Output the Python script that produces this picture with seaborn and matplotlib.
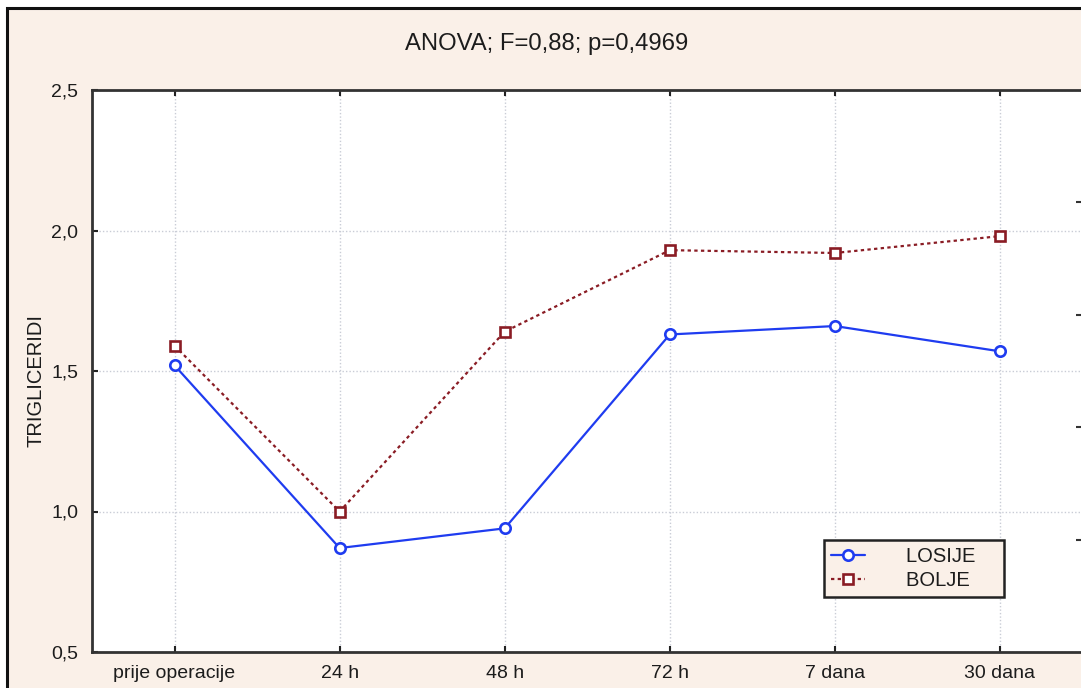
import matplotlib
matplotlib.use("Agg")
import matplotlib.pyplot as plt
from matplotlib.patches import Rectangle
from matplotlib.ticker import FuncFormatter
from matplotlib.lines import Line2D
import seaborn as sns
import pandas as pd

# Time points and mean triglyceride levels per outcome group
timepoints = ["prije operacije", "24 h", "48 h", "72 h", "7 dana", "30 dana"]
losije = [1.52, 0.87, 0.94, 1.63, 1.66, 1.57]
bolje = [1.59, 1.00, 1.64, 1.93, 1.92, 1.98]
groups = ["LOSIJE", "BOLJE"]
title_text = "ANOVA; F=0,88; p=0,4969"
y_label = "TRIGLICERIDI"
y_ticks = [0.5, 1.0, 1.5, 2.0, 2.5]

df = pd.DataFrame({
    "vrijeme": timepoints * 2,
    "TRIGLICERIDI": losije + bolje,
    "grupa": [groups[0]] * len(timepoints) + [groups[1]] * len(timepoints),
})

sns.set_theme(style="white")
plt.rcParams["font.family"] = ["Liberation Sans", "DejaVu Sans"]

BEIGE = "#faf0e8"
BLUE = "#1f3cf0"
RED = "#8a1c24"
TEXT = "#1c1c1c"
GRID = "#c9ccd6"

fig = plt.figure(figsize=(10.81, 6.88), dpi=100, facecolor="white")

# outer panel frame
W, H = 1081, 688
fig.patches.append(Rectangle((7 / W, -0.05), 1.1, 1 - 8 / H + 0.05,
                             transform=fig.transFigure, facecolor=BEIGE,
                             edgecolor="#111111", linewidth=2.2, zorder=-5))

ax = fig.add_axes([92 / W, 36 / H, (1082.5 - 92) / W, (652 - 90) / H])
ax.set_facecolor("white")

sns.lineplot(data=df, x="vrijeme", y="TRIGLICERIDI", hue="grupa", style="grupa",
             palette={groups[0]: BLUE, groups[1]: RED},
             markers={groups[0]: "o", groups[1]: "s"},
             dashes={groups[0]: "", groups[1]: (1.5, 1.5)},
             linewidth=1.6, markersize=7.5, markerfacecolor="white",
             markeredgewidth=1.9, ax=ax, legend=False, zorder=3)

for ln in ax.lines:
    ln.set_markeredgecolor(ln.get_color())

ax.set_xlim(-0.5, 5.5)
ax.set_ylim(0.5, 2.5)
ax.set_yticks(y_ticks)
ax.yaxis.set_major_formatter(FuncFormatter(lambda v, p: f"{v:.1f}".replace(".", ",")))
ax.set_xlabel("")
ax.set_ylabel(y_label, fontsize=14.5, color=TEXT)
ax.yaxis.set_label_coords(-(92 - 36) / (1082.5 - 92), 0.483)
ax.yaxis.label.set_va("center")

ax.grid(True, linestyle=(0, (1, 1.5)), color=GRID, linewidth=1.0, zorder=0)
ax.set_axisbelow(True)

for side, sp in ax.spines.items():
    sp.set_color("#333333")
    sp.set_linewidth(2.0)

ax.tick_params(axis="x", which="major", direction="in", length=4, width=1.5,
               top=True, bottom=True, labelsize=14, labelcolor=TEXT, pad=9,
               color="#222222")
ax.tick_params(axis="y", which="major", direction="in", length=4, width=1.5,
               left=True, right=False, labelsize=14, labelcolor=TEXT, pad=10,
               color="#222222")

# tick marks of the secondary scale on the right edge
ax2 = ax.twinx()
ax2.set_ylim(0.5, 2.5)
ax2.set_yticks([0.9, 1.3, 1.7, 2.1])
ax2.set_yticklabels([])
ax2.tick_params(axis="y", direction="in", length=4, width=1.5, color="#333333")
for sp in ax2.spines.values():
    sp.set_visible(False)

fig.text(547 / W, 1 - 44 / H, title_text, ha="center", va="center",
         fontsize=17.2, color=TEXT)

handles = [
    Line2D([0], [0], color=BLUE, linewidth=1.6, marker="o", markersize=7.5,
           markerfacecolor="white", markeredgecolor=BLUE, markeredgewidth=1.9),
    Line2D([0], [0], color=RED, linewidth=1.6, linestyle=(0, (1.5, 1.5)),
           marker="s", markersize=7.5, markerfacecolor="white",
           markeredgecolor=RED, markeredgewidth=1.9),
]
leg = fig.legend(handles, groups, loc="upper left",
                 bbox_to_anchor=(824 / W, 1 - 540 / H), frameon=True,
                 fancybox=False, fontsize=14.5, handlelength=1.7,
                 handletextpad=2.0, borderpad=0.35, labelspacing=0.25,
                 borderaxespad=0)
frame = leg.get_frame()
frame.set_facecolor(BEIGE)
frame.set_edgecolor("#222222")
frame.set_linewidth(1.8)
frame.set_alpha(1)
for t in leg.get_texts():
    t.set_color(TEXT)
    t.set_text(t.get_text() + "    ")

fig.savefig("out.png", dpi=100, facecolor=fig.get_facecolor())
